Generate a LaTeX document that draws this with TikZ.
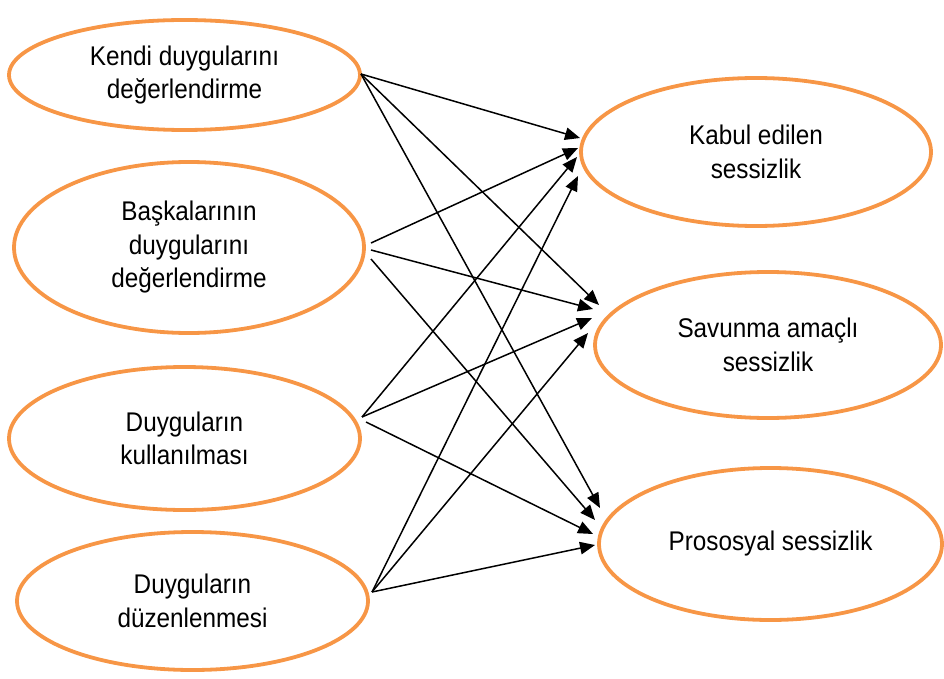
\documentclass[tikz,border=0pt]{standalone}
\usepackage{fontspec}
\setmainfont[FakeStretch=0.9]{Liberation Sans}
\usetikzlibrary{shapes.geometric,arrows.meta}
\definecolor{eorange}{HTML}{F79646}
\begin{document}
\begin{tikzpicture}[x=1pt,y=-1pt,
  oval/.style={ellipse, draw=eorange, line width=3.8pt, inner sep=0pt, align=center,
               font=\fontsize{27}{33.5}\selectfont},
  link/.style={line width=1.5pt, -{Triangle[length=15pt,width=12.5pt]}}]
\useasboundingbox (0,0) rectangle (944,679);
% left ellipses
\node[oval, minimum width=351pt, minimum height=110pt] (k1) at (184.5,75) {Kendi duygularını\\değerlendirme};
\node[oval, minimum width=350pt, minimum height=171pt] (k2) at (189,247.5) {Başkalarının\\duygularını\\değerlendirme};
\node[oval, minimum width=351pt, minimum height=143pt] (k3) at (184.5,438.5) {Duyguların\\kullanılması};
\node[oval, minimum width=351pt, minimum height=138pt] (k4) at (192.5,601) {Duyguların\\düzenlenmesi};
% right ellipses
\node[oval, minimum width=350pt, minimum height=148pt] (r1) at (756,152) {Kabul edilen\\sessizlik};
\node[oval, minimum width=346pt, minimum height=146pt] (r2) at (768,345) {Savunma amaçlı\\sessizlik};
\node[oval, minimum width=343pt, minimum height=152pt] (r3) at (770.5,544) {Prososyal sessizlik};
% start points
\coordinate (s1) at (361,74);
\coordinate (s2a) at (371,243);
\coordinate (s2b) at (371,250);
\coordinate (s2c) at (371,259);
\coordinate (s3a) at (362,417);
\coordinate (s3b) at (366,422);
\coordinate (s4) at (372,592);
% end points
\coordinate (e11) at (580,138);
\coordinate (e12) at (578,148);
\coordinate (e13) at (577,157);
\coordinate (e14) at (578,176);
\coordinate (e21) at (599,305);
\coordinate (e22) at (593,309);
\coordinate (e23) at (592,318);
\coordinate (e24) at (588,333);
\coordinate (e31) at (600,508);
\coordinate (e32) at (595,520);
\coordinate (e33) at (593,534);
\coordinate (e34) at (595,545);
% connectors
\draw[link] (s1) -- (e11);
\draw[link] (s1) -- (e21);
\draw[link] (s1) -- (e31);
\draw[link] (s2a) -- (e12);
\draw[link] (s2b) -- (e22);
\draw[link] (s2c) -- (e32);
\draw[link] (s3a) -- (e13);
\draw[link] (s3a) -- (e23);
\draw[link] (s3b) -- (e33);
\draw[link] (s4) -- (e14);
\draw[link] (s4) -- (e24);
\draw[link] (s4) -- (e34);
\end{tikzpicture}
\end{document}
